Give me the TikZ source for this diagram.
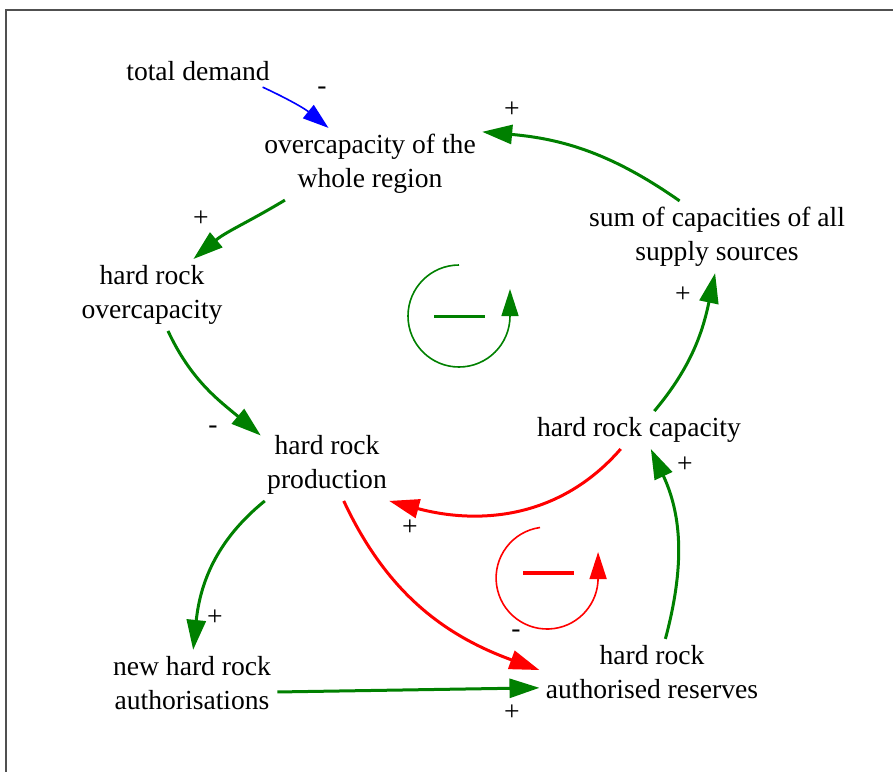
\documentclass[tikz,border=0pt]{standalone}
\usepackage{fontspec}
\setmainfont{Liberation Serif}
\usetikzlibrary{arrows.meta}

\definecolor{posgreen}{RGB}{0,128,0}
\definecolor{negred}{RGB}{255,0,0}
\definecolor{demblue}{RGB}{0,0,255}
\definecolor{framegray}{RGB}{80,80,80}

\begin{document}
\begin{tikzpicture}[
    x=0.5pt, y=-0.5pt,
    >={Triangle[length=15pt, width=9.5pt]},
    % Variables of the causal loop diagram
    var/.style={
        align=center,
        inner sep=3pt,
        font=\fontsize{13.8}{17}\selectfont
    },
    % Polarity signs next to the arrow heads
    sign/.style={
        inner sep=0pt,
        font=\fontsize{13.8}{17}\selectfont
    },
    % Links (green = reinforcing path, red = second loop, blue = external input)
    posLink/.style={draw=posgreen, line width=1.5pt, ->},
    negLink/.style={draw=negred, line width=1.5pt, ->},
    demLink/.style={draw=demblue, line width=0.8pt, -{Triangle[length=13pt, width=8.5pt]}},
    % Loop symbols
    loopSym/.style={line width=0.8pt, -{Triangle[length=13.5pt, width=8.5pt]}}
]

    % --- 1. FRAME ---
    \useasboundingbox (0,0) rectangle (893,772);
    \draw[framegray, line width=0.8pt] (893,10) -- (6,10) -- (6,772);

    % --- 2. VARIABLES ---
    \node[var] (demand) at (198,71) {total demand};
    \node[var] (over)   at (370,164) {overcapacity of the\\whole region};
    \node[var] (sum)    at (717,237) {sum of capacities of all\\supply sources};
    \node[var] (hro)    at (152,295) {hard rock\\overcapacity};
    \node[var] (prod)   at (327,465) {hard rock\\production};
    \node[var] (cap)    at (639,430) {hard rock capacity};
    \node[var] (auth)   at (192,683) {new hard rock\\authorisations};
    \node[var] (res)    at (652,672) {hard rock\\authorised reserves};

    % --- 3. LINKS ---
    \draw[demLink] (demand.-14) to[out=-25, in=141] (over.139);
    \draw[posLink] (sum.136) to[out=145, in=-5] (over.16);
    \draw[posLink] (over.-157) to[out=211, in=40] (hro.41);
    \draw[posLink] (hro.-66) to[out=-65, in=140] (prod.156);
    \draw[posLink] (cap.51) to[out=50, in=-102] (sum.-93);
    \draw[negLink] (cap.-134) to[out=-131, in=-15] (prod.-30);
    \draw[negLink] (prod.-65) to[out=-65, in=160] (res.179);
    \draw[posLink] (prod.-150) to[out=-141, in=84] (auth.88);
    \draw[posLink] (auth.-6) -- (res.188);
    \draw[posLink] (res.68) to[out=75, in=-65] (cap.-58);

    % Polarity signs
    \node[sign] (sDem)  at (322,91)  {-};
    \node[sign] (sSum)  at (512,110) {+};
    \node[sign] (sOver) at (201,219) {+};
    \node[sign] (sHro)  at (213,430) {-};
    \node[sign] (sCap)  at (683,295) {+};
    \node[sign] (sProd) at (410,528) {+};
    \node[sign] (sRes)  at (516,634) {-};
    \node[sign] (sAuth) at (215,618) {+};
    \node[sign] (sNew)  at (512,713) {+};
    \node[sign] (sRCap) at (685,465) {+};

    % --- 4. LOOP SYMBOLS ---
    % Upper loop (green)
    \draw[loopSym, posgreen] (459,265) arc[start angle=270, end angle=0, radius=51] -- ++(0,-27);
    \draw[posgreen, line width=1.5pt] (434,316) -- (485,316);

    % Lower loop (red)
    \draw[loopSym, negred] (540,527.5) arc[start angle=262, end angle=0, radius=51] -- ++(0,-26);
    \draw[negred, line width=2pt] (523,573) -- (574,573);

\end{tikzpicture}
\end{document}
